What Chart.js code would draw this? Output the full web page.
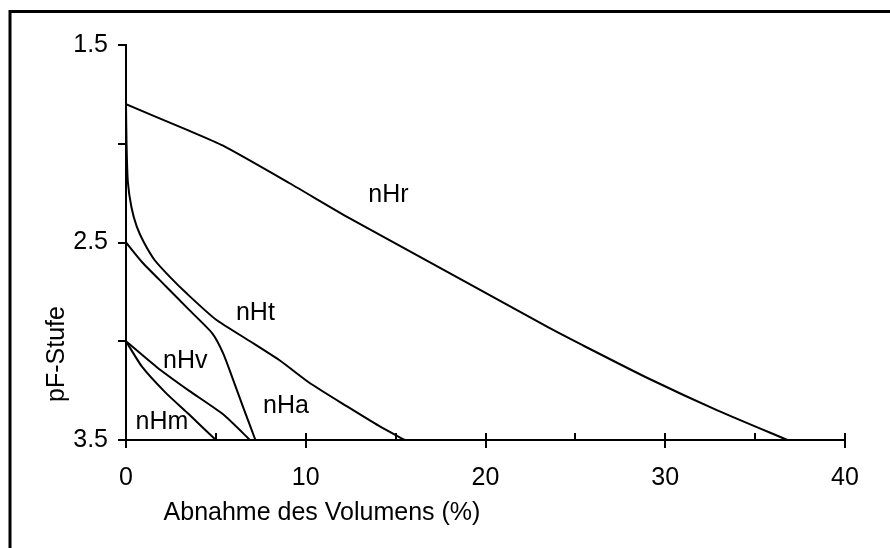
<!DOCTYPE html>
<html>
<head>
<meta charset="utf-8">
<script src="https://cdn.jsdelivr.net/npm/chart.js@4.4.1/dist/chart.umd.min.js"></script>
<style>
    html, body { margin: 0; padding: 0; background: #fff; }
    #wrap { width: 890px; height: 548px; }
</style>
</head>
<body>
<div id="wrap"><canvas id="pfChart" width="890" height="548"></canvas></div>
<script>
// ========== DATOS ==========
const nHrX = [0, 3.4, 5.4, 9.1, 12.3, 16.0, 19.7, 23.5, 25.4, 29.1, 32.9, 36.8];
const nHrY = [1.8, 1.93, 2.01, 2.2, 2.37, 2.555, 2.74, 2.93, 3.02, 3.19, 3.35, 3.5];

const nHtX = [0, 0.03, 0.1, 0.3, 0.6, 1.0, 1.6, 2.4, 3.4, 5.0, 6.9, 8.6, 10.2, 12.3, 14.1, 15.5];
const nHtY = [1.8, 2.0, 2.19, 2.32, 2.42, 2.5, 2.59, 2.67, 2.76, 2.89, 3.0, 3.1, 3.21, 3.33, 3.43, 3.5];

const nHaX = [0, 0.9, 2.2, 3.5, 4.8, 5.4, 5.9, 6.5, 7.2];
const nHaY = [2.5, 2.6, 2.72, 2.84, 2.96, 3.06, 3.18, 3.33, 3.5];

const nHvX = [0, 1.7, 3.5, 5.4, 6.9];
const nHvY = [3.0, 3.13, 3.25, 3.37, 3.5];

const nHmX = [0, 0.9, 2.2, 3.5, 5.0];
const nHmY = [3.0, 3.13, 3.26, 3.37, 3.5];

// Beschriftung der Kurven (Datenkoordinaten)
const curveNames = ["nHr", "nHt", "nHa", "nHv", "nHm"];
const labelX = [14.6, 7.2, 8.9, 3.3, 2.0];
const labelY = [2.26, 2.86, 3.33, 3.1, 3.41];

const xTickValues = [0, 10, 20, 30, 40];
const xMinorValues = [5, 15, 25, 35];
const yTickValues = [1.5, 2.5, 3.5];
const yMinorValues = [2.0, 3.0];

const xTitle = "Abnahme des Volumens (%)";
const yTitle = "pF-Stufe";

const FONT = "'Liberation Sans', Arial, sans-serif";

function toPoints(xs, ys) {
    return xs.map((x, i) => ({ x: x, y: ys[i] }));
}

const series = [
    toPoints(nHrX, nHrY),
    toPoints(nHtX, nHtY),
    toPoints(nHaX, nHaY),
    toPoints(nHvX, nHvY),
    toPoints(nHmX, nHmY),
];

// ========== PLUGIN: Rahmen, Striche, Titel ==========
const decoPlugin = {
    id: "deco",
    beforeDraw(chart) {
        const c = chart.ctx;
        c.save();
        c.fillStyle = "#fff";
        c.fillRect(0, 0, chart.width, chart.height);
        c.strokeStyle = "#000";
        c.lineWidth = 3;
        c.beginPath();
        c.moveTo(10, chart.height);
        c.lineTo(10, 11.5);
        c.lineTo(chart.width, 11.5);
        c.stroke();
        c.restore();
    },
    afterDraw(chart) {
        const c = chart.ctx;
        const xs = chart.scales.x;
        const ys = chart.scales.y;
        const bottom = chart.chartArea.bottom;
        const left = chart.chartArea.left;
        c.save();
        c.strokeStyle = "#000";
        c.lineWidth = 2;
        c.beginPath();
        xTickValues.forEach((v) => {
            const px = Math.round(xs.getPixelForValue(v));
            c.moveTo(px, bottom - 7);
            c.lineTo(px, bottom + 8);
        });
        xMinorValues.forEach((v) => {
            const px = Math.round(xs.getPixelForValue(v));
            c.moveTo(px, bottom - 7);
            c.lineTo(px, bottom);
        });
        yTickValues.concat(yMinorValues).forEach((v) => {
            const py = Math.round(ys.getPixelForValue(v));
            c.moveTo(left - 8, py);
            c.lineTo(left, py);
        });
        c.stroke();

        // Kurvennamen
        c.fillStyle = "#000";
        c.font = "25px " + FONT;
        c.textAlign = "center";
        c.textBaseline = "middle";
        curveNames.forEach((name, i) => {
            c.fillText(name, xs.getPixelForValue(labelX[i]), ys.getPixelForValue(labelY[i]));
        });

        // Achsentitel
        c.fillText(xTitle, 322, 513);
        c.translate(57, 354);
        c.rotate(-Math.PI / 2);
        c.fillText(yTitle, 0, 0);
        c.restore();
    },
};

// ========== DIAGRAMM ==========
const ctx = document.getElementById("pfChart").getContext("2d");
new Chart(ctx, {
    type: "scatter",
    data: {
        datasets: series.map((pts, i) => ({
            label: curveNames[i],
            data: pts,
            showLine: true,
            borderColor: "#000",
            borderWidth: 2,
            pointRadius: 0,
            tension: 0.2,
            fill: false,
        })),
    },
    options: {
        responsive: false,
        animation: false,
        layout: { padding: { left: 0, top: 45, right: 45, bottom: 0 } },
        plugins: {
            legend: { display: false },
            tooltip: { enabled: false },
        },
        scales: {
            x: {
                type: "linear",
                min: 0,
                max: 40,
                afterFit: (s) => { s.height = 108; },
                afterBuildTicks: (s) => { s.ticks = xTickValues.map((v) => ({ value: v })); },
                grid: { display: false, drawTicks: false },
                border: { display: true, color: "#000", width: 2 },
                ticks: {
                    color: "#000",
                    padding: 23,
                    font: { size: 25, family: FONT },
                    maxRotation: 0,
                    autoSkip: false,
                },
            },
            y: {
                type: "linear",
                reverse: true,
                min: 1.5,
                max: 3.5,
                afterFit: (s) => { s.width = 126; },
                afterBuildTicks: (s) => { s.ticks = yTickValues.map((v) => ({ value: v })); },
                grid: { display: false, drawTicks: false },
                border: { display: true, color: "#000", width: 2 },
                ticks: {
                    color: "#000",
                    padding: 18,
                    font: { size: 25, family: FONT },
                    autoSkip: false,
                    callback: (v) => Number(v).toFixed(1),
                },
            },
        },
    },
    plugins: [decoPlugin],
});
</script>
</body>
</html>
